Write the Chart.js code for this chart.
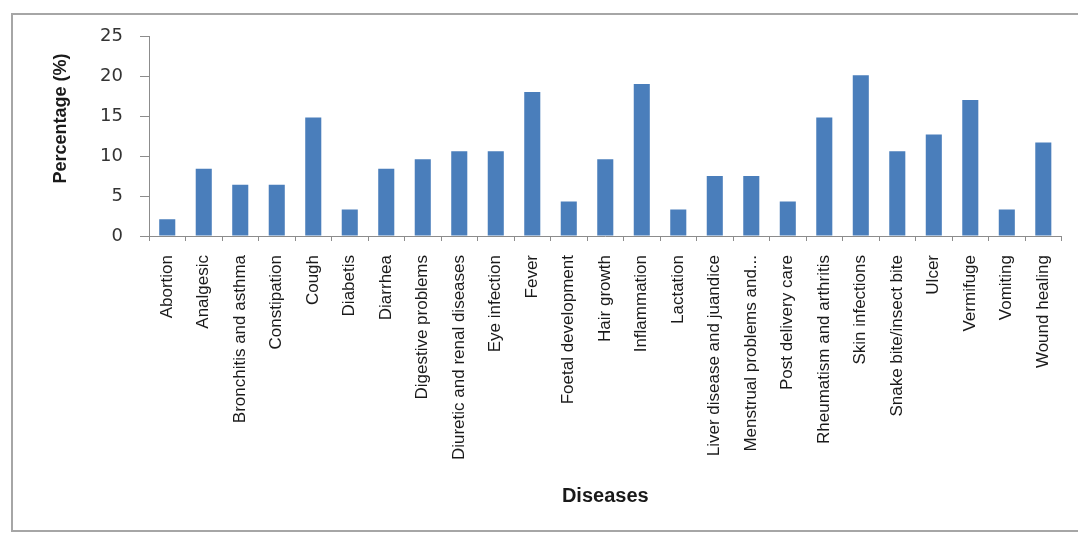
<!DOCTYPE html>
<html>
<head>
<meta charset="utf-8">
<script src="https://cdn.jsdelivr.net/npm/chart.js@4/dist/chart.umd.min.js"></script>
<style>
  html, body { margin: 0; padding: 0; background: #fff; overflow: hidden; }
  #wrap { position: relative; width: 1078px; height: 536px; }
  #frame {
    position: absolute; left: 11px; top: 13px; width: 1080px; height: 519px;
    border: 2px solid #a6a6a6; box-sizing: border-box; border-right: none;
  }
  canvas { position: absolute; left: 0; top: 0; }
</style>
</head>
<body>
<div id="wrap">
  <div id="frame"></div>
  <canvas id="myChart" width="1078" height="536"></canvas>
</div>
<script>
const diseases = [
  "Abortion", "Analgesic", "Bronchitis and asthma", "Constipation", "Cough",
  "Diabetis", "Diarrhea", "Digestive problems", "Diuretic and renal diseases",
  "Eye infection", "Fever", "Foetal development", "Hair growth", "Inflammation",
  "Lactation", "Liver disease and juandice", "Menstrual problems and...",
  "Post delivery care", "Rheumatism and arthritis", "Skin infections",
  "Snake bite/insect bite", "Ulcer", "Vermifuge", "Vomiting", "Wound healing"
];
const percentages = [
  2.1, 8.4, 6.4, 6.4, 14.8,
  3.3, 8.4, 9.6, 10.6,
  10.6, 18.0, 4.3, 9.6, 19.0,
  3.3, 7.5, 7.5,
  4.3, 14.8, 20.1,
  10.6, 12.7, 17.0, 3.3, 11.7
];
const yTicks = [0, 5, 10, 15, 20, 25];

window.onload = function () {
  const ctx = document.getElementById("myChart").getContext("2d");

  new Chart(ctx, {
    type: "bar",
    data: {
      labels: diseases,
      datasets: [{
        label: "Percentage",
        data: percentages,
        backgroundColor: "#4a7ebb",
        borderWidth: 0,
        barPercentage: 0.44,
        categoryPercentage: 1,
      }],
    },
    options: {
      responsive: false,
      animation: false,
      devicePixelRatio: 1,
      layout: { padding: { left: 46, right: 15, top: 36, bottom: 24 } },
      plugins: {
        legend: { display: false },
        tooltip: { enabled: false },
      },
      scales: {
        x: {
          grid: { drawOnChartArea: false, tickLength: 5, color: "#8c8c8c", offset: true },
          border: { color: "#8c8c8c" },
          ticks: {
            autoSkip: false, maxRotation: 90, minRotation: 90, padding: 14,
            color: "#1a1a1a", font: { family: "Liberation Sans", size: 17 },
          },
          title: {
            display: true, text: "Diseases", color: "#1a1a1a",
            font: { family: "Liberation Sans", size: 20, weight: "bold" },
          },
          afterFit: (scale) => { scale.height = 276; },
        },
        y: {
          min: 0,
          max: 25,
          afterBuildTicks: (scale) => { scale.ticks = yTicks.map((v) => ({ value: v })); },
          grid: { drawOnChartArea: false, tickLength: 9, color: "#8c8c8c" },
          border: { color: "#8c8c8c" },
          ticks: {
            padding: 17, color: "#333",
            font: { family: "DejaVu Sans", size: 18 },
          },
          title: {
            display: true, text: "       Percentage (%)", color: "#1a1a1a",
            font: { family: "Liberation Sans", size: 18, weight: "bold" },
          },
          afterFit: (scale) => { scale.width = 103; },
        },
      },
    },
  });
};
</script>
</body>
</html>
